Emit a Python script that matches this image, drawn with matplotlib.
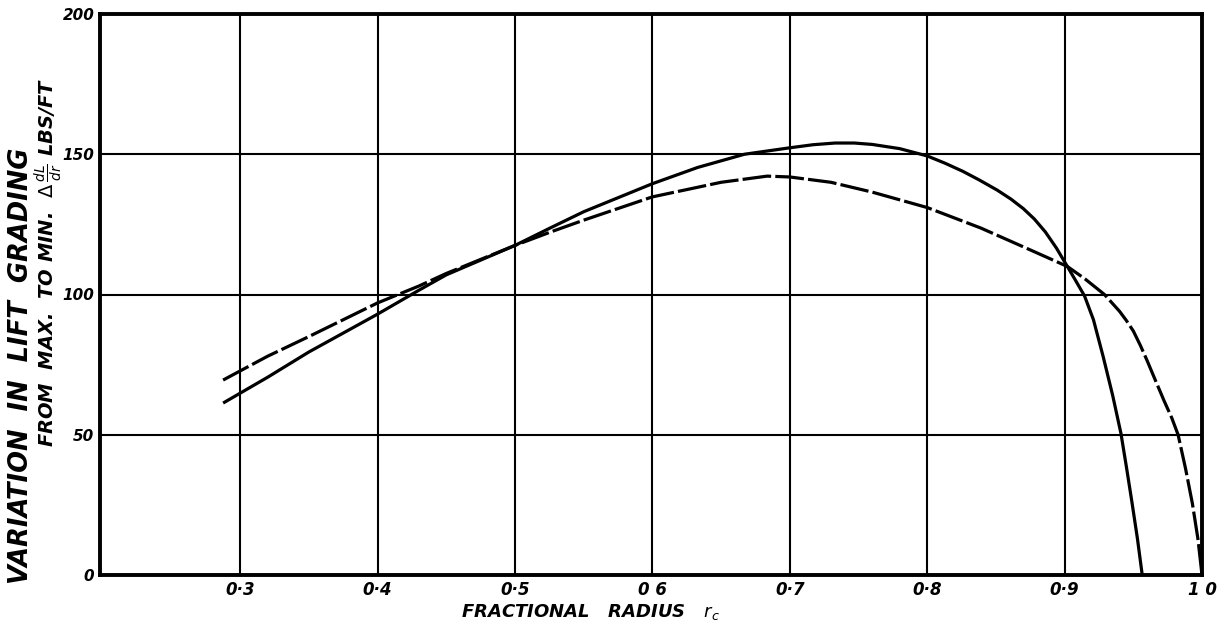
import matplotlib
matplotlib.use("Agg")
import matplotlib.pyplot as plt

# ---- data ----
r_solid = [0.2876, 0.32, 0.35, 0.40, 0.43, 0.45, 0.50, 0.526, 0.55, 0.60, 0.633,
           0.667, 0.70, 0.717, 0.733, 0.747, 0.76, 0.78, 0.80, 0.813, 0.826, 0.838,
           0.851, 0.861, 0.870, 0.878, 0.886, 0.894, 0.902, 0.908, 0.9145, 0.921,
           0.928, 0.935, 0.941, 0.945, 0.949, 0.953, 0.9565]
v_solid = [61.3, 70.5, 79.5, 93.0, 101.5, 107.0, 117.5, 123.8, 129.5, 139.5, 145.3,
           150.0, 152.3, 153.4, 154.0, 154.0, 153.5, 152.0, 149.4, 146.8, 143.9, 140.8,
           137.2, 134.0, 130.6, 126.9, 122.3, 116.6, 110.0, 105.0, 99.5, 91.0,
           78.0, 64.0, 50.5, 38.5, 26.0, 13.0, 0.0]

r_dash = [0.2876, 0.32, 0.35, 0.40, 0.43, 0.45, 0.50, 0.526, 0.55, 0.60, 0.65,
          0.6835, 0.70, 0.73, 0.76, 0.80, 0.839, 0.875, 0.902, 0.915, 0.929,
          0.94, 0.945, 0.95, 0.955, 0.960, 0.966, 0.9725, 0.978, 0.9826, 0.988,
          0.993, 0.997, 1.0]
v_dash = [69.5, 78.0, 85.0, 97.0, 103.0, 107.5, 117.5, 122.3, 126.5, 134.8, 140.0,
          142.2, 141.9, 140.0, 136.5, 131.0, 123.7, 115.9, 110.0, 105.5, 100.0,
          94.0, 90.7, 87.0, 82.0, 76.5, 69.5, 62.0, 56.0, 50.0, 38.0,
          25.5, 13.0, 0.0]

x_ticks = [0.3, 0.4, 0.5, 0.6, 0.7, 0.8, 0.9, 1.0]
x_tick_labels = ["0·3", "0·4", "0·5", "0 6", "0·7", "0·8", "0·9", "1 0"]
y_ticks = [0, 50, 100, 150, 200]
y_tick_labels = ["0", "50", "100", "150", "200"]

fig = plt.figure(figsize=(12.24, 6.34), dpi=100)
ax = fig.add_axes([100 / 1224, 59 / 634, 1102 / 1224, 561 / 634])

ax.set_xlim(0.198, 1.0)
ax.set_ylim(0, 200)

for xv in x_ticks:
    ax.axvline(xv, color="black", lw=1.5, zorder=1)
for yv in y_ticks[1:]:
    ax.axhline(yv, color="black", lw=1.5, zorder=1)

ax.plot(r_solid, v_solid, color="black", lw=2.3, solid_capstyle="butt",
        solid_joinstyle="round", zorder=3)
ln, = ax.plot(r_dash, v_dash, color="black", lw=2.3, dash_joinstyle="round", zorder=3)
ln.set_dashes((9, 1.3))

for s in ax.spines.values():
    s.set_linewidth(2.8)
    s.set_color("black")

ax.set_xticks(x_ticks)
ax.set_xticklabels(x_tick_labels, fontsize=12, fontweight="bold", fontstyle="italic")
ax.set_yticks(y_ticks)
ax.set_yticklabels(y_tick_labels, fontsize=11, fontweight="bold", fontstyle="italic")
ax.tick_params(axis="both", length=0)
ax.tick_params(axis="x", pad=4)
ax.tick_params(axis="y", pad=4)

fig.text(590 / 1224, 1 - 612 / 634, r"FRACTIONAL   RADIUS   $\mathbf{\mathit{r_c}}$",
         ha="center", va="center", fontsize=13, fontweight="bold", fontstyle="italic")
fig.text(21 / 1224, 1 - 366 / 634, "VARIATION  IN  LIFT  GRADING",
         rotation=90, ha="center", va="center", fontsize=18.5, fontweight="bold",
         fontstyle="italic")
fig.text(49 / 1224, 1 - 262 / 634,
         r"FROM  MAX.  TO MIN.  $\Delta\,\frac{dL}{dr}$ LBS/FT",
         rotation=90, ha="center", va="center", fontsize=14, fontweight="bold",
         fontstyle="italic")

fig.savefig("out.png", dpi=100, facecolor="white")
